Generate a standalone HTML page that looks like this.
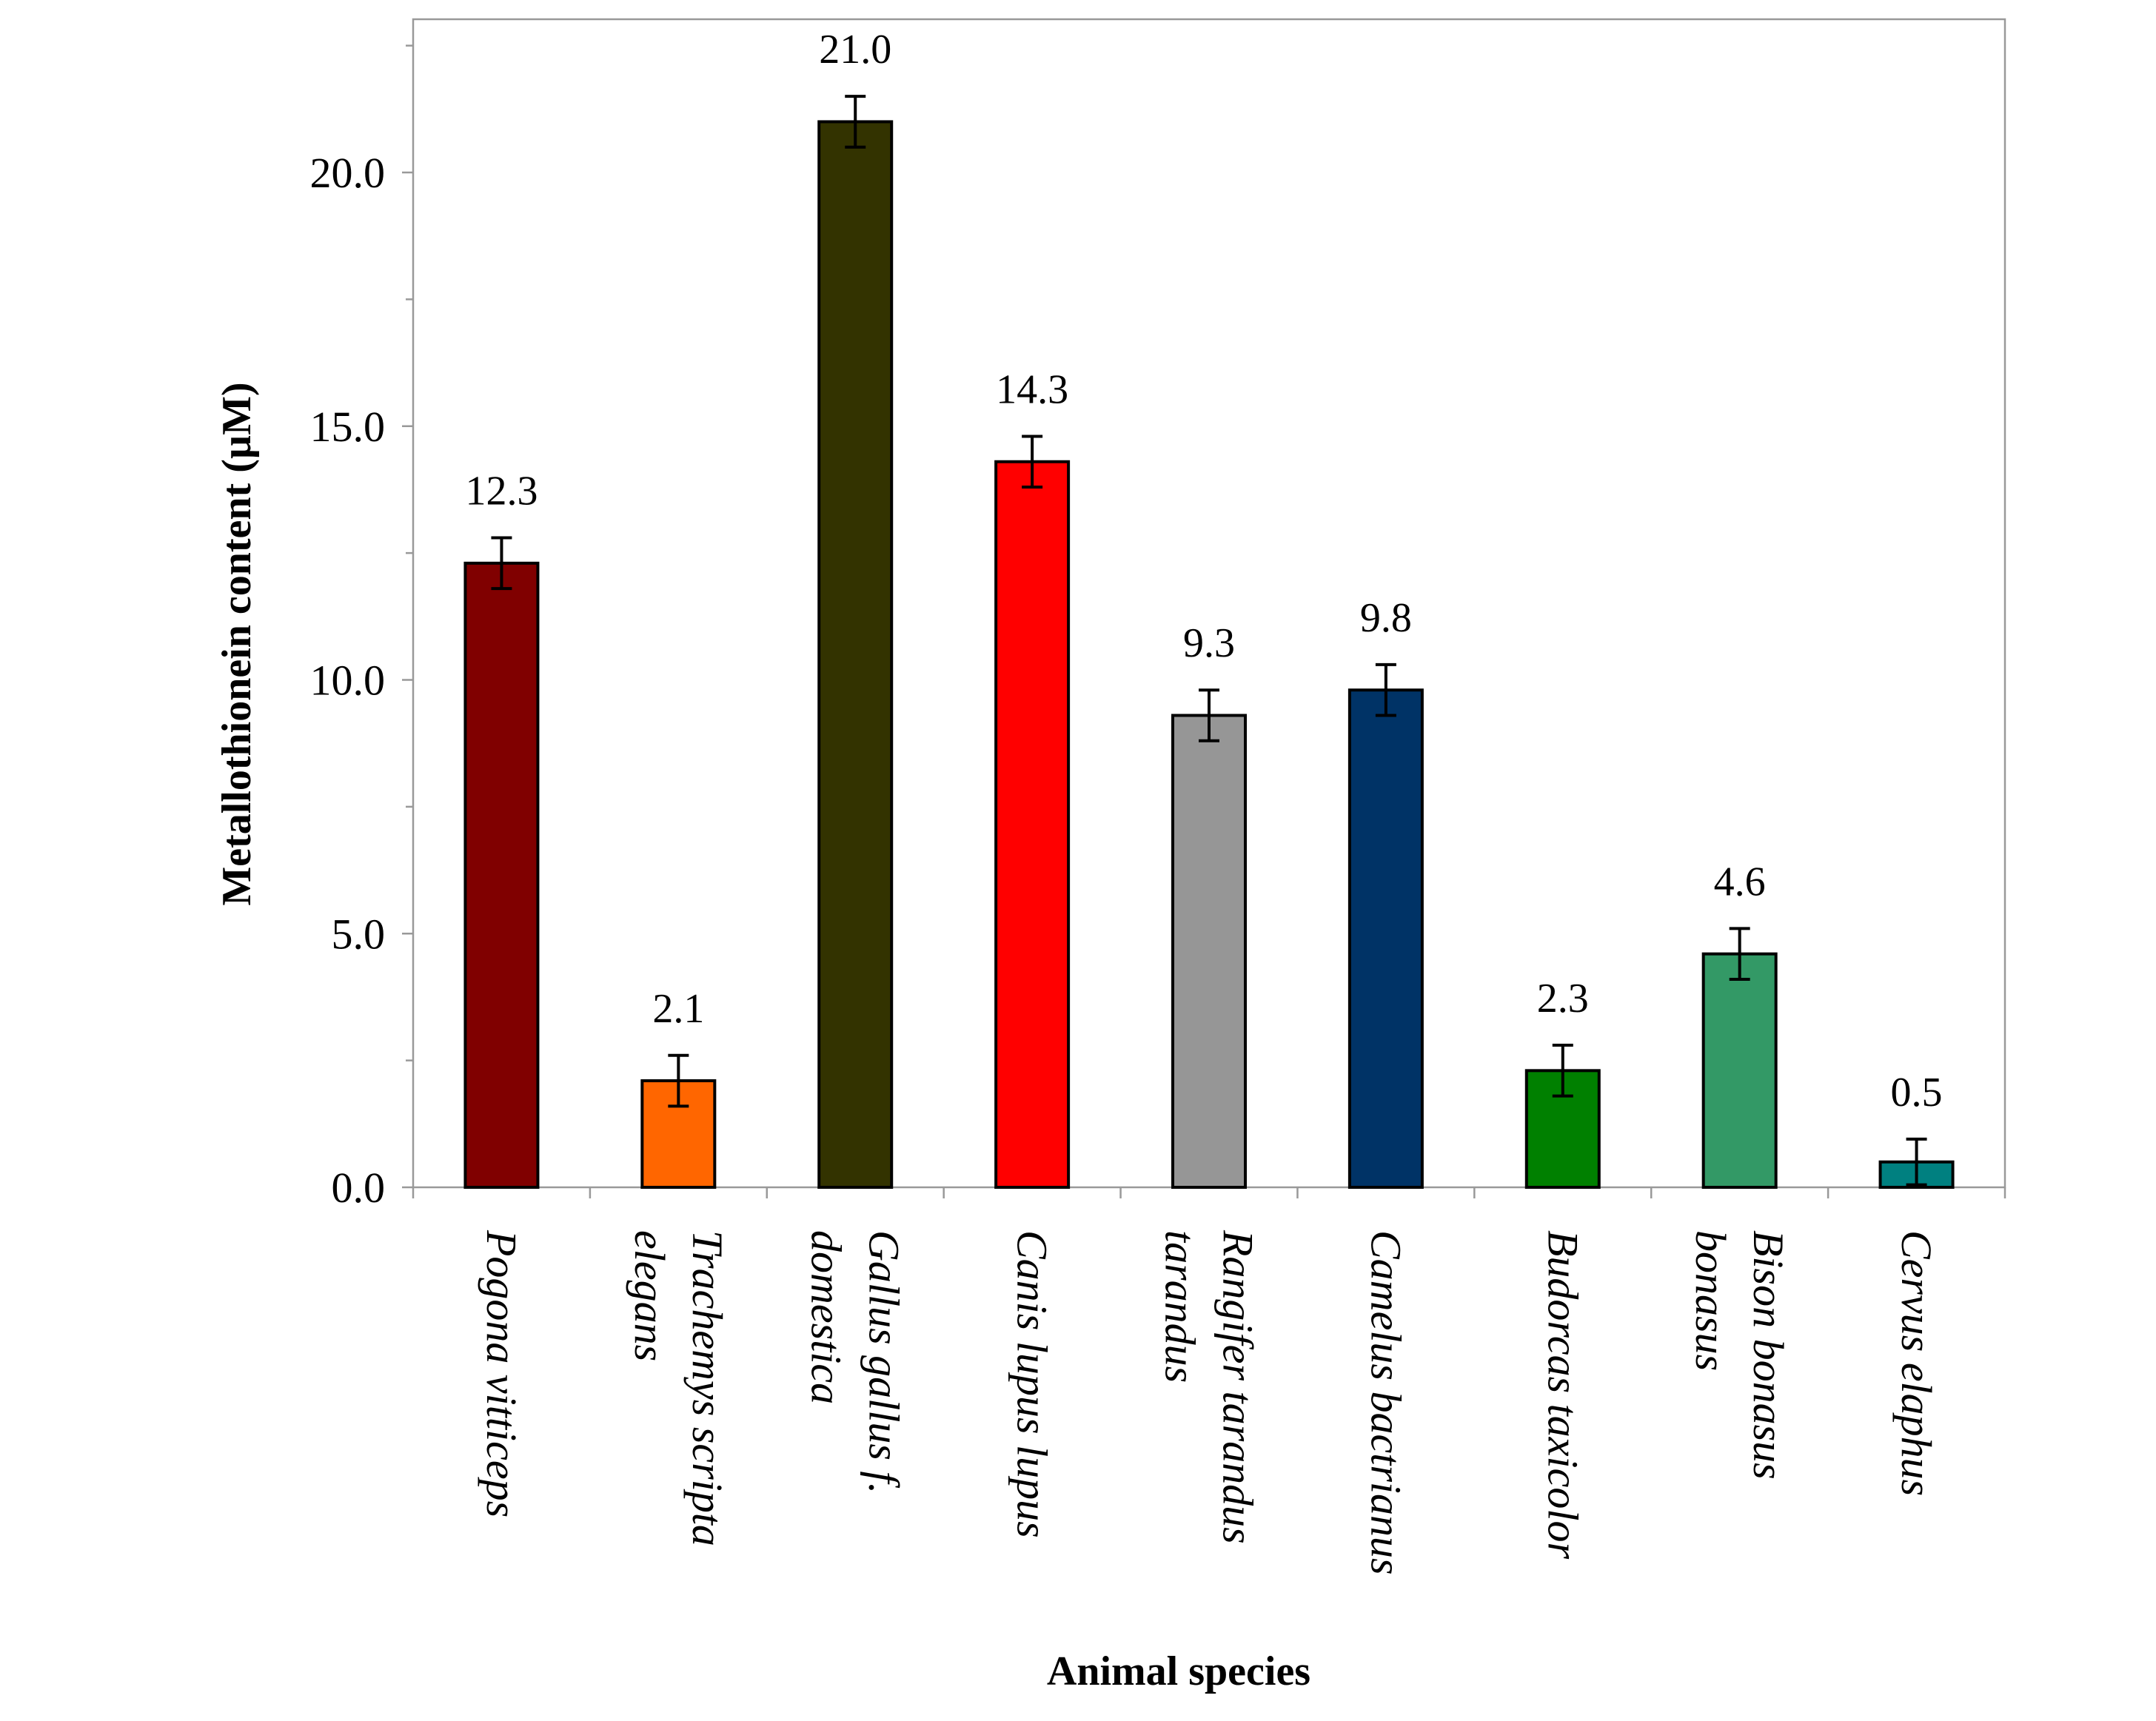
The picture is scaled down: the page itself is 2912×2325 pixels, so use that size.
<!DOCTYPE html>
<html><head><meta charset="utf-8"><style>
html,body{margin:0;padding:0;background:#fff}
svg{display:block}
text{font-family:"Liberation Serif",serif;fill:#000}
</style></head><body>
<svg id="chart" width="2912" height="2325" viewBox="0 0 2912 2325" xmlns="http://www.w3.org/2000/svg">
<rect x="558" y="26" width="2150" height="1578" fill="#fff" stroke="#999" stroke-width="2.5"/>
<g id="ticks"></g><g id="bars"></g><g id="labels"></g>
<text transform="translate(338,870) rotate(-90)" text-anchor="middle" font-weight="bold" font-size="56">Metallothionein content (µM)</text>
<text x="1592" y="2276" text-anchor="middle" font-weight="bold" font-size="56">Animal species</text>
</svg>
<script>
const categories=[["Pogona vitticeps"],["Trachemys scripta","elegans"],["Gallus gallus f.","domestica"],["Canis lupus lupus"],["Rangifer tarandus","tarandus"],["Camelus bactrianus"],["Budorcas taxicolor"],["Bison bonasus","bonasus"],["Cervus elaphus"]];
const values=[12.3,2.1,21.0,14.3,9.3,9.8,2.3,4.6,0.5];
const errors=[0.5,0.5,0.5,0.5,0.5,0.5,0.5,0.5,0.45];
const colors=["#800000","#FF6600","#333300","#FF0000","#969696","#003366","#008000","#339966","#008080"];
const yTicks=[0,5,10,15,20];
const NS="http://www.w3.org/2000/svg";
const L=558,R=2708,B=1604,unit=68.55;
const y=v=>B-v*unit;
const bw=(R-L)/values.length;
const xc=i=>L+bw*(i+0.5);
function mk(t,a,p){const e=document.createElementNS(NS,t);for(const k in a)e.setAttribute(k,a[k]);p.appendChild(e);return e;}
const tg=document.getElementById('ticks'),bg=document.getElementById('bars'),lg=document.getElementById('labels');
for(let v=0;v<=22.5;v+=2.5){const major=yTicks.includes(v);
const t=mk('line',{x1:L-(major?15:10),x2:L,y1:y(v),y2:y(v),stroke:'#999','stroke-width':2.5},tg);

}
yTicks.forEach(v=>{const t=mk('text',{x:L-38,y:y(v)+20,'text-anchor':'end','font-size':58},tg);t.textContent=v.toFixed(1);

});
for(let i=0;i<=values.length;i++){const t=mk('line',{x1:L+bw*i,x2:L+bw*i,y1:B,y2:B+15,stroke:'#999','stroke-width':2.5},tg);

}
values.forEach((v,i)=>{
const w=98,cx=xc(i);
const r=mk('rect',{x:cx-w/2,y:y(v),width:w,height:B-y(v),fill:colors[i],stroke:'#000','stroke-width':4},bg);


const e=errors[i],eg=mk('g',{stroke:'#000','stroke-width':4},bg);


mk('line',{x1:cx,x2:cx,y1:y(v+e),y2:y(v-e)},eg);
mk('line',{x1:cx-14,x2:cx+14,y1:y(v+e),y2:y(v+e)},eg);
mk('line',{x1:cx-14,x2:cx+14,y1:y(v-e),y2:y(v-e)},eg);
const t=mk('text',{x:cx,y:y(v+e)-45,'text-anchor':'middle','font-size':56},lg);t.textContent=v.toFixed(1);


const lines=categories[i],n=lines.length;
lines.forEach((s,j)=>{const lx=cx+(n===1?0:(j===0?39:-39));
const tx=mk('text',{transform:`translate(${lx},1662) rotate(90)`,'dominant-baseline':'central','font-style':'italic','font-size':58},lg);
tx.textContent=s;

});
});
</script>
</body></html>
